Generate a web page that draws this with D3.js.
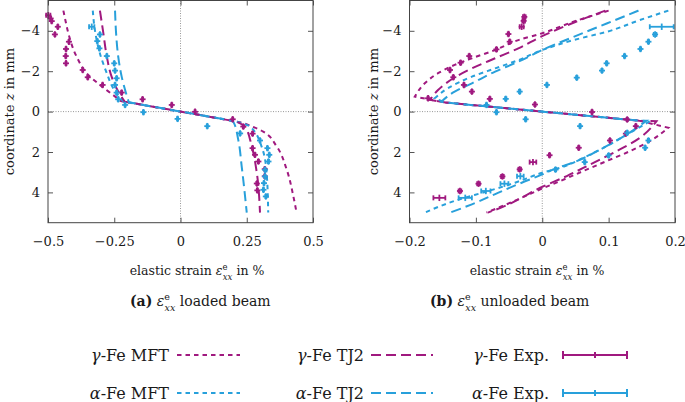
<!DOCTYPE html>
<html><head><meta charset="utf-8">
<script src="https://cdn.jsdelivr.net/npm/d3@7"></script>
<style>body{margin:0;background:#fff}svg{display:block}svg text{font-family:"DejaVu Serif","Liberation Serif","Times New Roman",serif;fill:#1a1a1a}</style>
</head><body><svg id="c" width="685" height="402"></svg>
<script>
// ---------- data ----------
const xTicksA = [-0.5, -0.25, 0, 0.25, 0.5];
const xTicksB = [-0.2, -0.1, 0, 0.1, 0.2];
const yTicks = [-4, -2, 0, 2, 4];
const seriesNames = ["γ-Fe MFT", "γ-Fe TJ2", "γ-Fe Exp.", "α-Fe MFT", "α-Fe TJ2", "α-Fe Exp."];

// (a) loaded beam: model curves [strain %, z mm]
const gMFT_A_upper = [[-0.442,-5],[-0.434,-4.5],[-0.423,-3.87],[-0.392,-2.72],[-0.354,-1.9],[-0.304,-1.32],[-0.254,-0.82],[-0.225,-0.52]];
const gMFT_A_lower = [[0.232,0.54],[0.312,0.99],[0.363,1.73],[0.401,2.88],[0.426,4.2],[0.438,5]];
const gTJ2_A_upper = [[-0.304,-5],[-0.291,-3.87],[-0.278,-2.72],[-0.26,-1.73],[-0.235,-0.99],[-0.21,-0.49]];
const gTJ2_A_lower = [[0.21,0.49],[0.243,0.74],[0.269,1.73],[0.288,3.04],[0.3,5]];
const aMFT_A_upper = [[-0.331,-5],[-0.323,-4.03],[-0.304,-2.88],[-0.278,-1.9],[-0.254,-1.16],[-0.215,-0.5]];
const aMFT_A_lower = [[0.2,0.46],[0.262,0.74],[0.306,1.73],[0.325,3.04],[0.331,5]];
const aTJ2_A_upper = [[-0.247,-5],[-0.243,-3.87],[-0.235,-2.72],[-0.222,-1.73],[-0.209,-1.07],[-0.195,-0.46]];
const aTJ2_A_lower = [[0.19,0.44],[0.2,0.52],[0.218,1.4],[0.231,2.72],[0.25,5]];

// (a) experiments [strain, z, half error]
const gExp_A = [[-0.499,-4.77,0.008],[-0.49,-4.61,0.002],[-0.486,-4.48,0.002],[-0.463,-4.2,0.002],[-0.474,-3.82,0.002],
  [-0.421,-3.46,0.002],[-0.432,-3.1,0.002],[-0.433,-2.75,0.002],[-0.432,-2.39,0.002],[-0.369,-2.06,0.002],
  [-0.35,-1.7,0.002],[-0.294,-1.32,0.002],[-0.222,-0.94,0.002],[-0.143,-0.61,0.002],[-0.033,-0.33,0.002],
  [0.055,0.01,0.002],[0.197,0.38,0.002],[0.237,0.74,0.002],[0.272,1.09,0.002],[0.272,1.81,0.002],
  [0.281,2.14,0.002],[0.294,2.47,0.002],[0.318,2.85,0.002],[0.318,3.2,0.002],[0.288,3.56,0.002],[0.29,3.9,0.002]];
const aExp_A = [[-0.335,-4.2,0.01],[-0.304,-3.82,0.002],[-0.314,-3.49,0.002],[-0.306,-3.13,0.002],[-0.278,-2.75,0.002],
  [-0.25,-2.39,0.002],[-0.247,-2.03,0.002],[-0.241,-1.65,0.002],[-0.247,-1.32,0.002],[-0.241,-0.94,0.002],
  [-0.235,-0.61,0.002],[-0.209,-0.33,0.002],[-0.14,0.03,0.002],[-0.011,0.36,0.002],[0.101,0.72,0.002],
  [0.225,1.08,0.002],[0.3,1.43,0.002],[0.328,1.81,0.002],[0.335,2.14,0.002],[0.332,2.47,0.002],
  [0.319,2.88,0.002],[0.319,3.21,0.002],[0.315,3.54,0.002],[0.313,3.87,0.002],[0.322,4.2,0.002]];

// (b) unloaded beam: model curves
const linB = [[-0.146,-0.45],[0.146,0.45]];
const gMFT_B_upper = [[0.1,-5],[0.047,-4.45],[-0.001,-3.87],[-0.036,-3.54],[-0.071,-3.05],[-0.106,-2.64],[-0.132,-2.31],[-0.157,-1.9],[-0.177,-1.4],[-0.192,-0.74]];
const gMFT_B_lower = [[0.19,0.8],[0.162,1.46],[0.132,1.96],[0.097,2.45],[0.062,2.94],[0.027,3.44],[-0.003,3.85],[-0.03,4.25],[-0.056,4.62],[-0.084,5]];
const gTJ2_B_upper = [[0.095,-5],[0.047,-4.4],[-0.001,-3.72],[-0.036,-3.13],[-0.071,-2.64],[-0.106,-2.14],[-0.134,-1.65],[-0.157,-1.07],[-0.169,-0.58]];
const gTJ2_B_lower = [[0.172,0.48],[0.147,1.3],[0.112,1.96],[0.072,2.62],[0.037,3.19],[-0.003,3.77],[-0.031,4.26],[-0.056,4.67],[-0.082,5]];
const aMFT_B_upper = [[0.19,-5],[0.147,-4.53],[0.097,-3.95],[0.047,-3.54],[0,-3.05],[-0.036,-2.55],[-0.071,-2.14],[-0.106,-1.73],[-0.142,-1.16],[-0.162,-0.66]];
const aMFT_B_lower = [[0.162,0.48],[0.132,1.05],[0.097,1.71],[0.062,2.29],[0.027,2.78],[0,3.03],[-0.041,3.52],[-0.081,3.93],[-0.132,4.42],[-0.177,5]];
const aTJ2_B_upper = [[0.145,-5],[0.097,-4.36],[0.047,-3.7],[0,-3.05],[-0.036,-2.47],[-0.071,-1.98],[-0.106,-1.4],[-0.132,-0.99],[-0.152,-0.49]];
const aTJ2_B_lower = [[0.157,0.45],[0.127,1.14],[0.092,1.79],[0.052,2.45],[0.017,2.86],[0,3.11],[-0.031,3.52],[-0.066,4.01],[-0.106,4.59],[-0.139,5]];

// (b) experiments
const gExp_B = [[-0.027,-4.69,0.002],[-0.028,-4.49,0.002],[-0.031,-4.2,0.003],[-0.051,-3.84,0.001],[-0.049,-3.46,0.001],
  [-0.069,-3.08,0.001],[-0.11,-2.75,0.001],[-0.123,-2.42,0.001],[-0.139,-2.06,0.001],[-0.134,-1.7,0.001],
  [-0.118,-1.32,0.001],[-0.106,-0.99,0.001],[-0.172,-0.66,0.001],[-0.079,-0.63,0.001],[-0.011,-0.35,0.001],
  [0.075,0.02,0.001],[0.128,0.39,0.001],[0.141,0.72,0.001],[0.126,1.09,0.001],[0.102,1.43,0.001],
  [0.055,1.79,0.001],[0.011,2.16,0.001],[-0.014,2.5,0.005],[-0.034,2.86,0.002],[-0.06,3.21,0.002],
  [-0.096,3.57,0.002],[-0.124,3.93,0.002],[-0.155,4.27,0.009]];
const aExp_B = [[0.18,-4.2,0.018],[0.17,-3.82,0.002],[0.16,-3.46,0.001],[0.148,-3.1,0.001],[0.124,-2.75,0.001],
  [0.097,-2.39,0.001],[0.09,-2.03,0.001],[0.052,-1.68,0.001],[0.007,-1.32,0.001],[-0.034,-0.99,0.001],
  [-0.055,-0.63,0.001],[-0.084,-0.33,0.001],[-0.069,0.03,0.001],[-0.025,0.38,0.001],[0.057,0.72,0.001],
  [0.128,1.05,0.001],[0.16,1.43,0.001],[0.155,1.79,0.001],[0.1,2.17,0.001],[0.064,2.5,0.001],
  [0.02,2.87,0.001],[-0.033,3.2,0.005],[-0.057,3.57,0.006],[-0.085,3.93,0.007],[-0.116,4.27,0.01]];

// ---------- styles ----------
const cG = "#a0197f", cA = "#28a0db";
const dotDash = "4.5,4", longDash = "10,5";
const FONT = '"DejaVu Serif","Liberation Serif",serif';

const svg = d3.select("#c");
const y = d3.scaleLinear().domain([-5.5, 5.5]).range([0.5, 222.7]);
const xA = d3.scaleLinear().domain([-0.5, 0.5]).range([48, 313]);
const xB = d3.scaleLinear().domain([-0.2, 0.2]).range([409.5, 675]);
const fmt = d3.format("");

function epsTex(t, size) {
  t.append("tspan").attr("font-style", "italic").text("ε");
  t.append("tspan").attr("font-size", size * 0.68).attr("dy", -0.42 * size).text("e");
  t.append("tspan").attr("font-size", size * 0.68).attr("font-style", "italic").attr("dx", -0.68 * size * 0.56).attr("dy", 0.8 * size).text("xx");
  return t.append("tspan").attr("dy", -0.38 * size);
}

function panel(x, xt, curves, exps, ylabX, xtitleX) {
  const g = svg.append("g");
  g.append("line").attr("x1", x(0)).attr("x2", x(0)).attr("y1", y(-5.5)).attr("y2", y(5.5))
    .attr("stroke", "#999").attr("stroke-width", 1).attr("stroke-dasharray", "1,1.5");
  g.append("line").attr("x1", x.range()[0]).attr("x2", x.range()[1]).attr("y1", y(0)).attr("y2", y(0))
    .attr("stroke", "#999").attr("stroke-width", 1).attr("stroke-dasharray", "1,1.5");
  const styleAx = s => { s.attr("font-family", FONT).attr("font-size", 13); s.select(".domain").remove();
    s.selectAll(".tick line").attr("stroke", "#555"); s.selectAll(".tick text").attr("fill", "#1a1a1a"); };
  g.append("g").attr("transform", `translate(0,${y(5.5)})`)
    .call(d3.axisBottom(x).tickValues(xt).tickFormat(fmt).tickSizeInner(-5).tickSizeOuter(0).tickPadding(14)).call(styleAx);
  g.append("g").attr("transform", `translate(0,${y(-5.5)})`)
    .call(d3.axisTop(x).tickValues(xt).tickFormat("").tickSizeInner(-5).tickSizeOuter(0)).call(styleAx);
  g.append("g").attr("transform", `translate(${x.range()[0]},0)`)
    .call(d3.axisLeft(y).tickValues(yTicks).tickFormat(fmt).tickSizeInner(-5).tickSizeOuter(0).tickPadding(8)).call(styleAx);
  g.append("g").attr("transform", `translate(${x.range()[1]},0)`)
    .call(d3.axisRight(y).tickValues(yTicks).tickFormat("").tickSizeInner(-5).tickSizeOuter(0)).call(styleAx);
  const smooth = d3.line().x(d => x(d[0])).y(d => y(d[1])).curve(d3.curveMonotoneY);
  curves.forEach(c => {
    const d = smooth(c.upper) + c.mid.map(p => `L${x(p[0])},${y(p[1])}`).join("") + smooth(c.lower).replace(/^M/, "L");
    g.append("path").attr("d", d).attr("fill", "none").attr("stroke", c.color).attr("stroke-width", 2)
      .attr("stroke-dasharray", c.dash);
  });
  exps.forEach(e => {
    const pg = g.append("g").attr("stroke", e.color).attr("stroke-width", 1.8);
    e.data.forEach(p => {
      const cx = x(p[0]), cy = y(p[1]), x1 = x(p[0] - p[2]), x2 = x(p[0] + p[2]);
      pg.append("line").attr("x1", Math.min(x1, cx - 3)).attr("x2", Math.max(x2, cx + 3)).attr("y1", cy).attr("y2", cy);
      pg.append("line").attr("x1", x1).attr("x2", x1).attr("y1", cy - 2.5).attr("y2", cy + 2.5);
      pg.append("line").attr("x1", x2).attr("x2", x2).attr("y1", cy - 2.5).attr("y2", cy + 2.5);
      pg.append("line").attr("x1", cx).attr("x2", cx).attr("y1", cy - 3.2).attr("y2", cy + 3.2);
    });
  });
  g.append("rect").attr("x", x.range()[0]).attr("y", y(-5.5)).attr("width", x.range()[1] - x.range()[0])
    .attr("height", y(5.5) - y(-5.5)).attr("fill", "none").attr("stroke", "#444").attr("stroke-width", 1);
  const yl = svg.append("text").attr("transform", `translate(${ylabX},${y(0)}) rotate(-90)`)
    .attr("text-anchor", "middle").attr("font-size", 13);
  yl.append("tspan").text("coordinate ");
  yl.append("tspan").attr("font-style", "italic").text("z");
  yl.append("tspan").text(" in mm");
  const xtl = svg.append("text").attr("x", xtitleX).attr("y", 275).attr("text-anchor", "middle").attr("font-size", 12.5);
  xtl.append("tspan").text("elastic strain ");
  epsTex(xtl, 12.5).text(" in %");
}

panel(xA, xTicksA, [
  {upper: gMFT_A_upper, mid: [], lower: gMFT_A_lower, color: cG, dash: dotDash},
  {upper: aMFT_A_upper, mid: [], lower: aMFT_A_lower, color: cA, dash: dotDash},
  {upper: gTJ2_A_upper, mid: [], lower: gTJ2_A_lower, color: cG, dash: longDash},
  {upper: aTJ2_A_upper, mid: [], lower: aTJ2_A_lower, color: cA, dash: longDash}
], [{data: gExp_A, color: cG}, {data: aExp_A, color: cA}], 14, 197);

panel(xB, xTicksB, [
  {upper: gMFT_B_upper, mid: linB, lower: gMFT_B_lower, color: cG, dash: dotDash},
  {upper: aMFT_B_upper, mid: linB, lower: aMFT_B_lower, color: cA, dash: dotDash},
  {upper: gTJ2_B_upper, mid: linB, lower: gTJ2_B_lower, color: cG, dash: longDash},
  {upper: aTJ2_B_upper, mid: linB, lower: aTJ2_B_lower, color: cA, dash: longDash}
], [{data: gExp_B, color: cG}, {data: aExp_B, color: cA}], 378, 537);

[["(a)", "loaded beam", 130], ["(b)", "unloaded beam", 430]].forEach(c => {
  const t = svg.append("text").attr("x", c[2]).attr("y", 306).attr("font-size", 14);
  t.append("tspan").attr("font-weight", "bold").text(c[0]);
  t.append("tspan").text(" ");
  epsTex(t, 14).text(" " + c[1]);
});

const legRows = [355, 393];
const legCols = [{tx: 169, x1: 177, x2: 240, dash: dotDash}, {tx: 364, x1: 371, x2: 433, dash: longDash}, {tx: 549, x1: 563, x2: 627, dash: null}];
seriesNames.forEach((name, i) => {
  const row = Math.floor(i / 3), col = legCols[i % 3], cy = legRows[row], color = row === 0 ? cG : cA;
  const t = svg.append("text").attr("x", col.tx).attr("y", cy + 5.5).attr("text-anchor", "end").attr("font-size", 16);
  t.append("tspan").attr("font-style", "italic").text(name[0]);
  t.append("tspan").text(name.slice(1));
  if (col.dash) {
    svg.append("line").attr("x1", col.x1).attr("x2", col.x2).attr("y1", cy).attr("y2", cy)
      .attr("stroke", color).attr("stroke-width", 2).attr("stroke-dasharray", col.dash);
  } else {
    const lg = svg.append("g").attr("stroke", color).attr("stroke-width", 2);
    const xm = (col.x1 + col.x2) / 2;
    lg.append("line").attr("x1", col.x1).attr("x2", col.x2).attr("y1", cy).attr("y2", cy);
    lg.append("line").attr("x1", col.x1).attr("x2", col.x1).attr("y1", cy - 4).attr("y2", cy + 4);
    lg.append("line").attr("x1", col.x2).attr("x2", col.x2).attr("y1", cy - 4).attr("y2", cy + 4);
    lg.append("line").attr("x1", xm).attr("x2", xm).attr("y1", cy - 3).attr("y2", cy + 3);
  }
});
</script></body></html>
